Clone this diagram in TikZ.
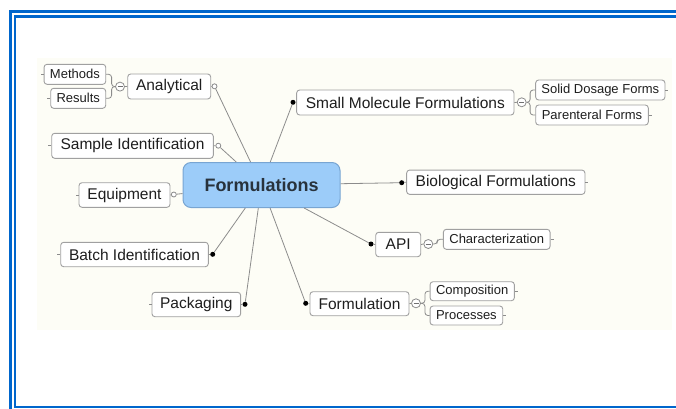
\documentclass[tikz,border=0pt]{standalone}
\usepackage{fontspec}
\setmainfont{Liberation Sans}
\definecolor{frameblue}{RGB}{0,102,204}
\definecolor{cream}{RGB}{253,253,246}
\definecolor{boxline}{RGB}{160,160,160}
\definecolor{connline}{RGB}{140,140,140}
\definecolor{txt}{RGB}{30,30,30}
\definecolor{cfill}{RGB}{156,204,249}
\definecolor{cline}{RGB}{120,165,210}
\tikzset{
  box/.style={draw=boxline, line width=0.9pt, fill=white, rounded corners=3pt, inner sep=0pt, text=txt, font=\fontsize{15.5}{18}\selectfont},
  sbox/.style={box, font=\fontsize{13}{15}\selectfont},
  cbox/.style={draw=cline, line width=1pt, fill=cfill, rounded corners=8pt, inner sep=0pt, text={rgb,255:red,40;green,50;blue,60}, font=\fontsize{18}{22}\selectfont\bfseries},
  conn/.style={draw=connline, line width=0.8pt},
  hollowdot/.style={circle, draw=connline, line width=0.8pt, fill=white, minimum size=5pt, inner sep=0pt},
  fulldot/.style={circle, fill=black, minimum size=5pt, inner sep=0pt},
  minusc/.style={circle, draw=connline, line width=0.8pt, fill=white, minimum size=9pt, inner sep=0pt},
}
\begin{document}
\begin{tikzpicture}[x=1pt,y=-1pt]
\useasboundingbox (0,0) rectangle (676,408);
\begin{scope}
\clip (0,0) rectangle (676,408);
% frame
\draw[frameblue, line width=2.6pt] (10.5,11.3) rectangle (700,430);
\draw[frameblue, line width=2.2pt] (15.2,16.4) rectangle (690,407);
% background
\fill[cream] (37,58) rectangle (672,330);
\end{scope}

% central
\node[cbox, minimum width=157, minimum height=45] (central) at (261.5,185) {Formulations};

% left side
\node[box, minimum width=83, minimum height=25] (analytical) at (169.2,86.5) {Analytical};
\node[sbox, minimum width=61.7, minimum height=20] (methods) at (74.9,74.3) {Methods};
\node[sbox, minimum width=55, minimum height=20] (results) at (78.2,98.3) {Results};
\node[minusc] (mA) at (120,86.6) {};
\node[box, minimum width=161.6, minimum height=25] (sample) at (132.5,145.8) {Sample Identification};
\node[box, minimum width=91, minimum height=24.6] (equip) at (124.5,195) {Equipment};
\node[box, minimum width=147.6, minimum height=24.4] (batch) at (134.5,254.5) {Batch Identification};
\node[box, minimum width=88.7, minimum height=24.4] (pack) at (196.3,304.5) {Packaging};

% right side
\node[box, minimum width=217.3, minimum height=25] (small) at (405.3,102.5) {Small Molecule Formulations};
\node[minusc] (mS) at (521.7,102.3) {};
\node[sbox, minimum width=129.3, minimum height=20] (solid) at (600.3,90) {Solid Dosage Forms};
\node[sbox, minimum width=112.6, minimum height=20] (paren) at (592,115) {Parenteral Forms};
\node[box, minimum width=178.3, minimum height=24.3] (bio) at (495.8,182.2) {Biological Formulations};
\node[box, minimum width=45, minimum height=24.4] (api) at (398.2,244.5) {API};
\node[minusc] (mP) at (428.3,244) {};
\node[sbox, minimum width=106.7, minimum height=20] (charac) at (496.7,239.3) {Characterization};
\node[box, minimum width=99, minimum height=24] (form) at (359.5,303.7) {Formulation};
\node[minusc] (mF) at (416,303.3) {};
\node[sbox, minimum width=84.3, minimum height=19] (comp) at (472.2,291.2) {Composition};
\node[sbox, minimum width=72.7, minimum height=19] (proc) at (466.4,315.5) {Processes};

% connector dots
\node[hollowdot] (dA) at (214.5,86.3) {};
\node[hollowdot] (dSa) at (218.3,145.7) {};
\node[hollowdot] (dE) at (173.8,194.5) {};
\node[fulldot] (dB) at (212.7,254.3) {};
\node[fulldot] (dP) at (245,304.3) {};
\node[fulldot] (dS) at (293,102.3) {};
\node[fulldot] (dBi) at (401.7,182.7) {};
\node[fulldot] (dAp) at (371,244) {};
\node[fulldot] (dF) at (305.7,303.3) {};

% main connectors
\foreach \d in {dA,dSa,dE,dB,dP,dS,dBi,dAp,dF}
  \draw[conn] (central) -- (\d);

% node to dot stubs
\draw[conn] (analytical.east) -- (dA);
\draw[conn] (sample.east) -- (dSa);
\draw[conn] (equip.east) -- (dE);
\draw[conn] (batch.east) -- (dB);
\draw[conn] (pack.east) -- (dP);
\draw[conn] (small.west) -- (dS);
\draw[conn] (bio.west) -- (dBi);
\draw[conn] (api.west) -- (dAp);
\draw[conn] (form.west) -- (dF);

% minus circles and brackets
\draw[conn] (analytical.west) -- (mA.east);
\draw[conn, rounded corners=3pt] (mA.west) -- ++(-3.5,0) |- (methods.east);
\draw[conn, rounded corners=3pt] (mA.west) -- ++(-3.5,0) |- (results.east);
\draw[conn] (small.east) -- (mS.west);
\draw[conn, rounded corners=3pt] (mS.east) -- ++(3.5,0) |- (solid.west);
\draw[conn, rounded corners=3pt] (mS.east) -- ++(3.5,0) |- (paren.west);
\draw[conn] (api.east) -- (mP.west);
\draw[conn, rounded corners=3pt] (mP.east) -- ++(4,0) |- (charac.west);
\draw[conn] (form.east) -- (mF.west);
\draw[conn, rounded corners=3pt] (mF.east) -- ++(4,0) |- (comp.west);
\draw[conn, rounded corners=3pt] (mF.east) -- ++(4,0) |- (proc.west);
\foreach \m in {mA,mS,mP,mF}
  \draw[connline!80!black, line width=0.9pt] ([xshift=-2.5pt]\m.center) -- ([xshift=2.5pt]\m.center);

% outer stubs
\foreach \n in {methods,results,sample,equip,batch,pack}
  \draw[conn] (\n.west) -- ++(-3,0);
\foreach \n in {solid,paren,bio,charac,comp,proc}
  \draw[conn] (\n.east) -- ++(3,0);
\end{tikzpicture}
\end{document}
